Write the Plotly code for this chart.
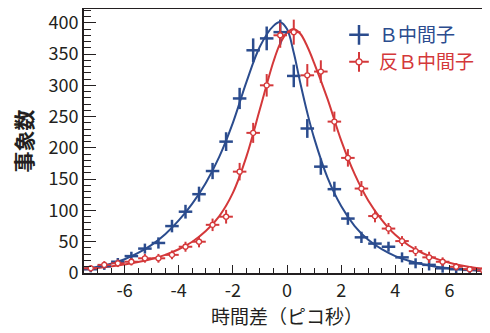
import plotly.graph_objects as go

# ---- data ----
time_bins = [-7.25, -6.75, -6.25, -5.75, -5.25, -4.75, -4.25, -3.75, -3.25, -2.75,
             -2.25, -1.75, -1.25, -0.75, -0.25, 0.25, 0.75, 1.25, 1.75, 2.25,
             2.75, 3.25, 3.75, 4.25, 4.75, 5.25, 5.75, 6.25, 6.75, 7.25]
bin_half_width = 0.25

b_counts = [6, 11, 18, 27, 39, 48, 75, 98, 126, 163,
            210, 279, 356, 375, 385, 315, 231, 170, 134, 87,
            57, 47, 42, 25, 15.5, 13, 7.5, 6, 5, 4]
b_errors = [5, 6, 6, 7, 8, 9, 10, 11, 12, 13,
            15, 17, 19, 19, 20, 18, 15, 13, 12, 10,
            9, 8, 8, 8, 8, 9, 7, 6, 5, 5]

bbar_counts = [7.5, 13, 15.5, 18, 23.5, 23.5, 29, 42, 50, 77,
               90, 162, 224, 300, 380, 385, 316, 322, 242, 184,
               135, 91, 71, 51, 35, 25, 18, 10, 6, 4]
bbar_errors = [5, 6, 6, 6, 7, 7, 7, 8, 9, 10,
               11, 14, 16, 18, 20, 20, 18, 18, 16, 14,
               12, 10, 9, 8, 8, 9, 7, 6, 5, 5]

fit_x = [-7.5, -7.0, -6.5, -6.0, -5.5, -5.0, -4.5, -4.0, -3.5, -3.0,
         -2.5, -2.0, -1.5, -1.0, -0.5, -0.25, 0.0, 0.25, 0.5, 0.75,
         1.0, 1.5, 2.0, 2.5, 3.0, 3.5, 4.0, 4.5, 5.0, 5.5,
         6.0, 6.5, 7.0, 7.5]
b_fit = [7, 10, 15, 22, 32, 45, 62, 84, 111, 144,
         186, 240, 305, 362, 395, 401, 390, 352, 302, 256,
         216, 152, 107, 75, 53, 38, 27, 19.5, 14, 10,
         7.5, 5.5, 4, 3]
bbar_fit = [6, 8, 10.5, 13.5, 17.5, 22.5, 29, 38, 50, 67,
            91, 128, 186, 262, 338, 367, 384, 390, 382, 362,
            336, 278, 212, 158, 116, 85, 61, 44, 32, 23,
            16.5, 11.5, 8, 6]

x_tick_vals = [-6, -4, -2, 0, 2, 4, 6]
x_tick_labels = ["-6", "-4", "-2", "0", "2", "4", "6"]

label_b = "Ｂ中間子"
label_bbar = "反Ｂ中間子"
x_title = "時間差（ピコ秒）"
y_title = "事象数"

BLUE = "#2b4c8e"
RED = "#d4383a"
AXIS = "#231f20"
FONT = "Noto Sans CJK JP, Noto Sans, sans-serif"

fig = go.Figure()

# fitted curves
fig.add_trace(go.Scatter(x=fit_x, y=b_fit, mode="lines", line=dict(color=BLUE, width=2, shape="spline", smoothing=1.0),
                         showlegend=False, hoverinfo="skip"))
fig.add_trace(go.Scatter(x=fit_x, y=bbar_fit, mode="lines", line=dict(color=RED, width=2, shape="spline", smoothing=1.0),
                         showlegend=False, hoverinfo="skip"))

# data points
fig.add_trace(go.Scatter(
    x=time_bins, y=b_counts, mode="markers",
    marker=dict(size=1, color=BLUE),
    error_x=dict(type="constant", value=bin_half_width, thickness=2.5, width=0, color=BLUE),
    error_y=dict(type="data", array=b_errors, thickness=2.5, width=0, color=BLUE),
    showlegend=False, cliponaxis=True))
fig.add_trace(go.Scatter(
    x=time_bins, y=bbar_counts, mode="markers",
    marker=dict(size=5, color="white", line=dict(color=RED, width=1.3)),
    error_x=dict(type="constant", value=bin_half_width, thickness=2, width=0, color=RED),
    error_y=dict(type="data", array=bbar_errors, thickness=2, width=0, color=RED),
    showlegend=False, cliponaxis=True))

# legend entries
fig.add_trace(go.Scatter(x=[None], y=[None], mode="markers", name=label_b, legend="legend",
                         marker=dict(symbol="cross-thin", size=14, line=dict(color=BLUE, width=2.5))))
fig.add_trace(go.Scatter(x=[None], y=[None], mode="markers", name=label_bbar, legend="legend2",
                         marker=dict(symbol="cross-thin", size=14, line=dict(color=RED, width=2))))
fig.add_trace(go.Scatter(x=[None], y=[None], mode="markers", name=" ", legend="legend3",
                         marker=dict(symbol="circle", size=6, color="white", line=dict(color=RED, width=1.3))))

# page is rendered with an 8px body margin; plot area spans page x 84..490, y 9..273
def px_x(p):
    return (p - 84) / 406.0

def px_y(p):
    return (273 - p) / 264.0

legend_common = dict(xanchor="left", yanchor="middle", bgcolor="rgba(0,0,0,0)", borderwidth=0,
                     itemsizing="trace")
fig.update_layout(
    width=482, height=325,
    margin=dict(l=76, r=0, t=1, b=60, autoexpand=False),
    paper_bgcolor="white", plot_bgcolor="white",
    font=dict(family=FONT, color=AXIS),
    legend=dict(x=px_x(339), y=px_y(35), font=dict(family=FONT, size=19, color=BLUE), **legend_common),
    legend2=dict(x=px_x(339), y=px_y(62), font=dict(family=FONT, size=19, color=RED), **legend_common),
    legend3=dict(x=px_x(339), y=px_y(62), font=dict(family=FONT, size=19, color=RED), **legend_common),
    xaxis=dict(
        range=[-7.5, 7.5], tickmode="array", tickvals=x_tick_vals, ticktext=x_tick_labels,
        ticks="inside", ticklen=8, tickwidth=1.2, tickcolor=AXIS,
        minor=dict(tickmode="linear", tick0=0, dtick=0.5, ticks="inside", ticklen=5, tickwidth=1.2, tickcolor=AXIS),
        showline=True, linewidth=2, linecolor=AXIS, mirror=True,
        showgrid=False, zeroline=False,
        tickfont=dict(family=FONT, size=18, color=AXIS),
        title=dict(text=x_title, font=dict(family=FONT, size=19, color=AXIS), standoff=7),
    ),
    yaxis=dict(
        range=[0, 422], tick0=0, dtick=50,
        ticks="inside", ticklen=12, tickwidth=1.2, tickcolor=AXIS,
        minor=dict(tick0=0, dtick=10, ticks="inside", ticklen=7, tickwidth=1.2, tickcolor=AXIS),
        showline=True, linewidth=2, linecolor=AXIS, mirror=True,
        showgrid=False, zeroline=False,
        tickfont=dict(family=FONT, size=18, color=AXIS),
        title=dict(text=y_title, font=dict(family=FONT, size=21, color=AXIS, weight="bold"), standoff=13),
    ),
)

fig.write_html("out.html")
